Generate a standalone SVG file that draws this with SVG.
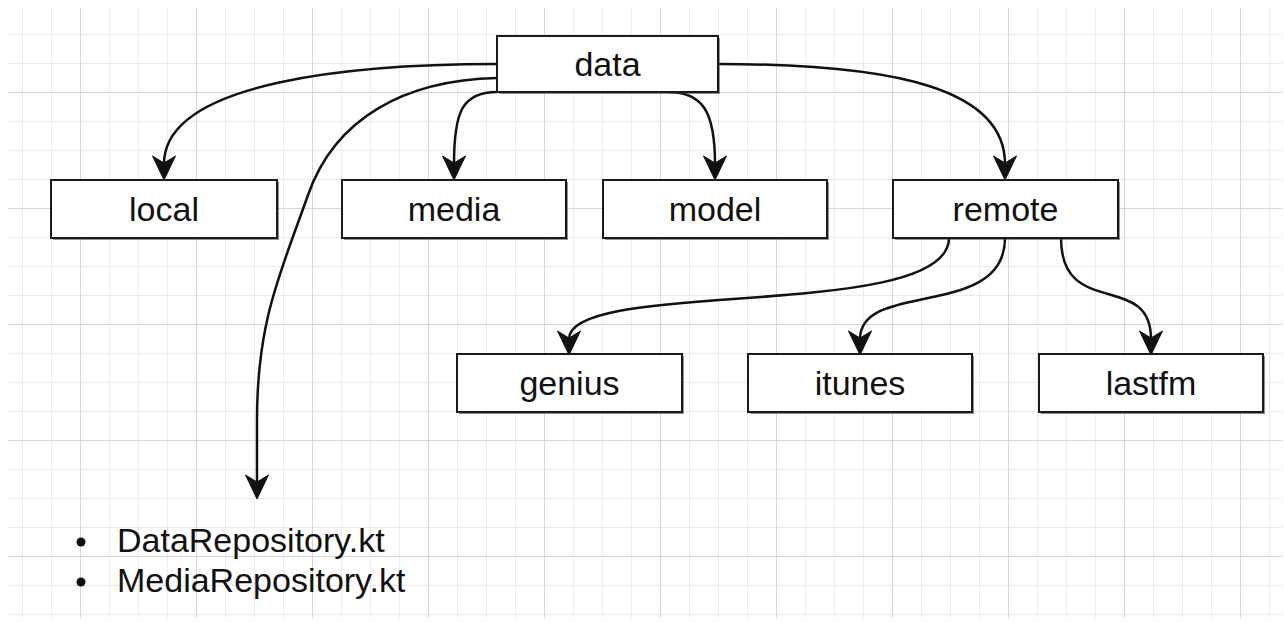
<svg xmlns="http://www.w3.org/2000/svg" width="1284" height="623" viewBox="0 0 1284 623">
  <style>
    .box { fill: #ffffff; stroke: #1a1a1a; stroke-width: 2; }
    .shadow { fill: #3a3a3a; opacity: 0.55; }
    .label { font-family: "Liberation Sans", Arial, Helvetica, sans-serif; font-size: 34px; fill: #111111; text-anchor: middle; }
    .item { font-family: "Liberation Sans", Arial, Helvetica, sans-serif; font-size: 34px; fill: #111111; }
    .edge { fill: none; stroke: #111111; stroke-width: 2.5; marker-end: url(#arrow); }
  </style>
  <defs>
    <!-- page grid: minor cell 29px, major every 4 cells -->
    <pattern id="grid" x="80" y="92" width="116" height="116" patternUnits="userSpaceOnUse">
      <path d="M29.5 0V116M58.5 0V116M87.5 0V116M0 29.5H116M0 58.5H116M0 87.5H116" stroke="#ebebeb" stroke-width="1" fill="none"/>
      <path d="M0.5 0V116M0 0.5H116" stroke="#d8d8d8" stroke-width="1" fill="none"/>
    </pattern>
    <!-- classic notched arrowhead -->
    <marker id="arrow" viewBox="-25 -13 27 26" markerWidth="27" markerHeight="26" refX="-15" refY="0" orient="auto" markerUnits="userSpaceOnUse">
      <path d="M1,0 L-23,-11.5 L-16,0 L-23,11.5 Z" fill="#111111" stroke="#111111" stroke-width="1" stroke-linejoin="miter"/>
    </marker>
  </defs>

  <rect x="0" y="0" width="1284" height="623" fill="#ffffff"/>
  <rect x="8" y="8" width="1274" height="610" fill="url(#grid)"/>

  <g id="connectors">
    <path class="edge" d="M497,64 C360,64 164,80 164,164"/>
    <path class="edge" d="M497,78 C405,80 335,118 308,195 S257,320 257,420 L257,483"/>
    <path class="edge" d="M497,92 C462,92 454,112 454,164"/>
    <path class="edge" d="M668,92 C703,92 715,112 715,164"/>
    <path class="edge" d="M718,64 C900,64 1005,90 1005,164"/>
    <path class="edge" d="M949,238 C949,322 569,278 569,339"/>
    <path class="edge" d="M1005,238 C1005,320 860,280 860,339"/>
    <path class="edge" d="M1061,238 C1061,320 1151,270 1151,339"/>
  </g>

  <g id="node-data">
    <rect class="shadow" x="499" y="38" width="221" height="56"/>
    <rect class="box" x="497" y="36" width="221" height="56"/>
    <text class="label" x="607.5" y="76">data</text>
  </g>
  <g id="node-local">
    <rect class="shadow" x="53" y="182" width="226" height="58"/>
    <rect class="box" x="51" y="180" width="226" height="58"/>
    <text class="label" x="164" y="221">local</text>
  </g>
  <g id="node-media">
    <rect class="shadow" x="344" y="182" width="224" height="58"/>
    <rect class="box" x="342" y="180" width="224" height="58"/>
    <text class="label" x="454" y="221">media</text>
  </g>
  <g id="node-model">
    <rect class="shadow" x="605" y="182" width="224" height="58"/>
    <rect class="box" x="603" y="180" width="224" height="58"/>
    <text class="label" x="715" y="221">model</text>
  </g>
  <g id="node-remote">
    <rect class="shadow" x="895" y="182" width="225" height="58"/>
    <rect class="box" x="893" y="180" width="225" height="58"/>
    <text class="label" x="1005.5" y="221">remote</text>
  </g>
  <g id="node-genius">
    <rect class="shadow" x="459" y="356" width="225" height="58"/>
    <rect class="box" x="457" y="354" width="225" height="58"/>
    <text class="label" x="569.5" y="395">genius</text>
  </g>
  <g id="node-itunes">
    <rect class="shadow" x="750" y="356" width="224" height="58"/>
    <rect class="box" x="748" y="354" width="224" height="58"/>
    <text class="label" x="860" y="395">itunes</text>
  </g>
  <g id="node-lastfm">
    <rect class="shadow" x="1041" y="356" width="224" height="58"/>
    <rect class="box" x="1039" y="354" width="224" height="58"/>
    <text class="label" x="1151" y="395">lastfm</text>
  </g>

  <g id="node-files">
    <circle cx="81" cy="542" r="4.5" fill="#111111"/>
    <circle cx="81" cy="582" r="4.5" fill="#111111"/>
    <text class="item" x="117" y="552">DataRepository.kt</text>
    <text class="item" x="117" y="592">MediaRepository.kt</text>
  </g>
</svg>
